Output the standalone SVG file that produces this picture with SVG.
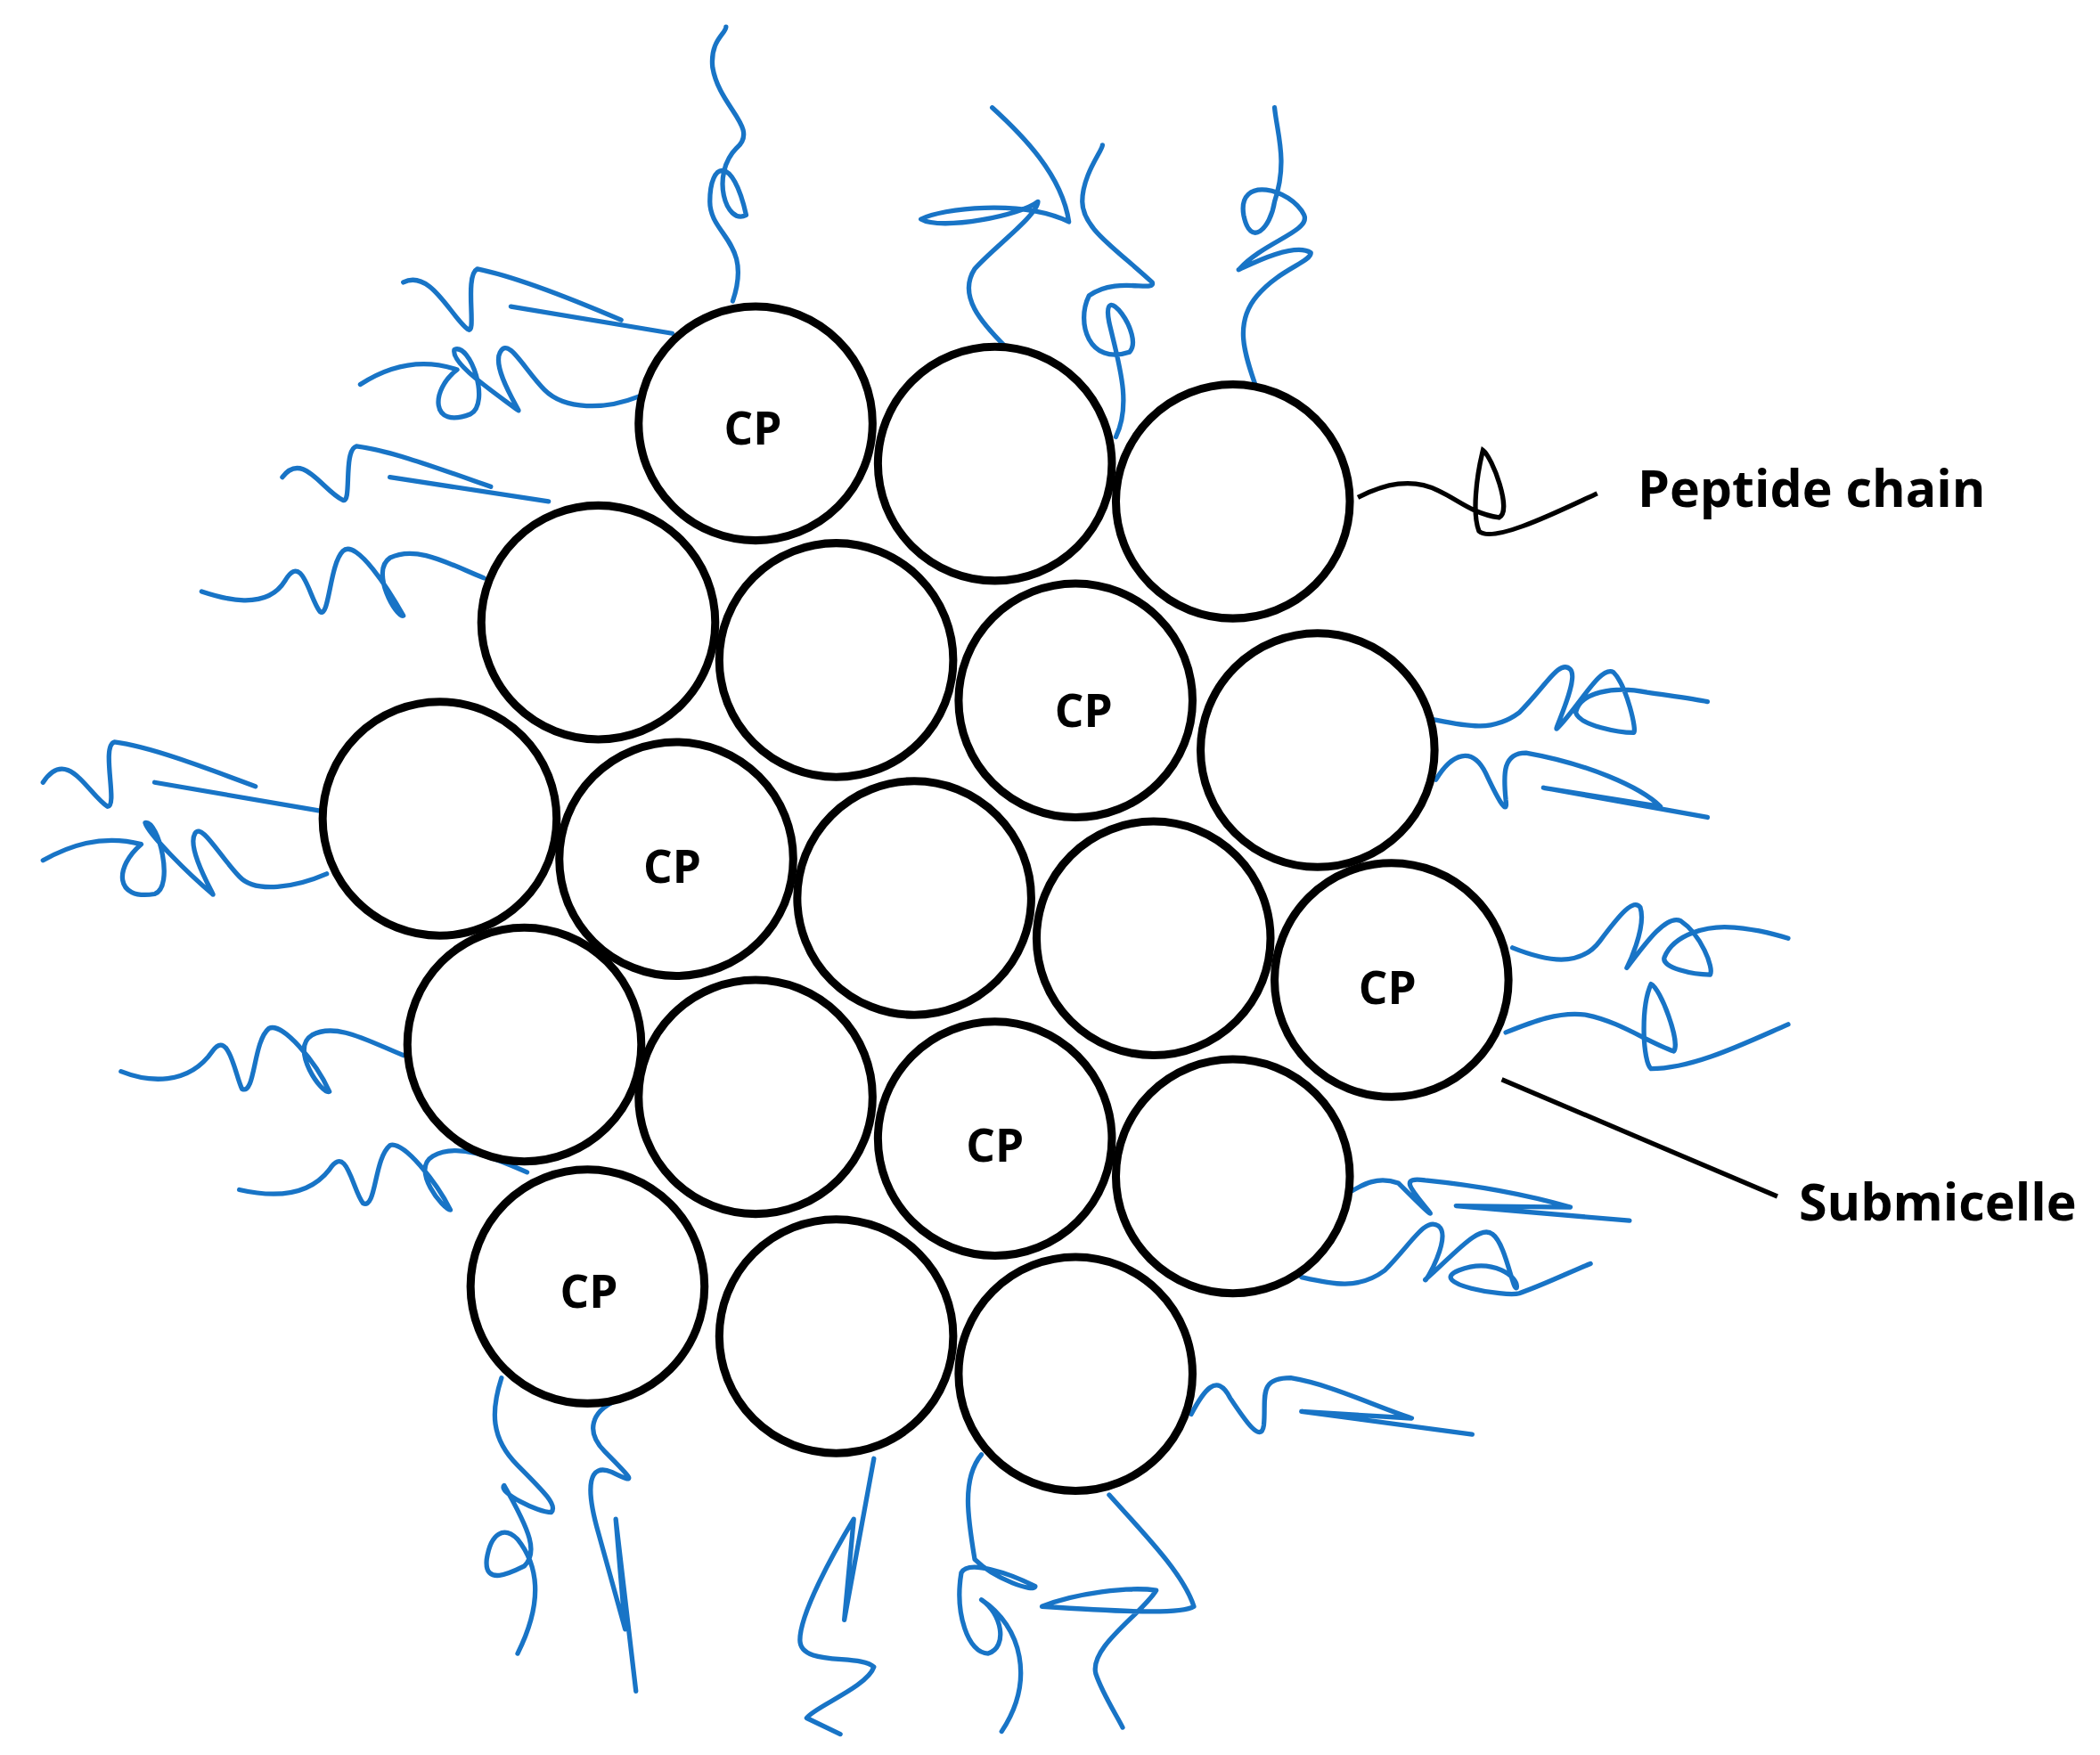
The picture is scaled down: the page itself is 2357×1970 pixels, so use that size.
<svg xmlns="http://www.w3.org/2000/svg" width="2357" height="1970" viewBox="0 0 2357 1970">
<style>
.c{fill:#fff;stroke:#000;stroke-width:6}
.b{fill:none;stroke:#1874c6;stroke-width:3.5;stroke-linecap:round;stroke-linejoin:round}
.k{fill:none;stroke:#000;stroke-width:3.5}
text{font-family:"Open Sans","Liberation Sans",sans-serif;font-weight:bold;fill:#000}
.cp{font-size:34px;text-anchor:middle}
.lb{font-size:38px}
</style>
<rect width="2357" height="1970" fill="#fff"/>
<g transform="scale(1.509)">
<g id="connectors">
<path class="b" d="M545,224 C560,180 528,175 528,150 C528,120 545,115 555,160 C540,168 528,130 548,110 C565,95 535,80 530,50 C528,30 540,25 540,20"/>
<path class="b" d="M748,258 C730,240 712,220 725,200 C738,185 772,160 772,150 C760,160 700,172 685,163 C700,155 760,148 795,165 C790,130 760,100 738,80"/>
<path class="b" d="M830,325 C842,300 832,270 825,240 C818,205 852,250 840,262 C810,272 800,240 810,220 C830,205 860,218 857,210 C830,185 805,170 805,150 C805,130 820,112 820,108"/>
<path class="b" d="M935,290 C925,262 918,240 935,220 C952,200 975,195 975,188 C960,178 915,205 922,200 C940,180 975,172 970,160 C960,140 920,130 925,160 C930,185 945,170 948,150 C958,120 950,100 948,80"/>
<path class="b" d="M500,248 L380,228 M462,238 C420,220 380,205 355,200 C345,205 355,250 348,245 C335,235 320,200 300,210"/>
<path class="b" d="M475,295 C450,305 420,305 405,290 C390,275 378,250 372,262 C365,275 390,310 385,305 C365,290 335,270 338,260 C350,255 365,300 350,308 C320,320 320,290 340,275 C310,265 285,275 268,286"/>
<path class="b" d="M408,373 L290,355 M365,362 C325,348 290,335 265,332 C255,335 262,375 255,372 C240,365 225,335 210,355"/>
<path class="b" d="M360,430 C335,420 310,405 290,415 C275,425 295,460 300,458 C290,440 265,400 255,410 C245,420 245,460 238,455 C230,445 225,410 212,432 C198,455 165,445 150,440"/>
<path class="b" d="M237,603 L115,582 M190,585 C150,570 110,555 85,552 C75,555 88,600 80,600 C65,590 50,555 32,582"/>
<path class="b" d="M243,650 C220,660 190,665 178,652 C162,635 150,612 145,620 C138,632 162,670 158,665 C140,650 110,620 108,612 C118,610 130,660 115,665 C85,670 85,645 105,628 C75,620 50,630 32,640"/>
<path class="b" d="M300,785 C275,775 250,760 232,770 C215,780 240,815 245,812 C235,790 210,760 200,765 C188,775 190,815 180,810 C175,800 170,765 158,782 C140,808 110,805 90,797"/>
<path class="b" d="M392,872 C365,860 340,850 322,860 C305,870 330,900 335,900 C325,880 300,848 290,852 C278,862 280,900 270,895 C262,885 258,850 245,870 C228,892 200,890 178,885"/>
<path class="b" d="M373,1025 C365,1050 365,1070 385,1090 C405,1110 415,1120 410,1125 C400,1125 370,1110 375,1105 C395,1140 400,1155 390,1165 C380,1170 360,1180 362,1160 C365,1140 375,1135 385,1145 C405,1170 400,1200 385,1230"/>
<path class="b" d="M458,1042 C440,1050 435,1065 450,1080 C470,1100 475,1105 455,1095 C438,1088 435,1105 445,1140 L465,1212 L458,1130 L473,1258"/>
<path class="b" d="M650,1085 L628,1205 L635,1130 C620,1155 595,1200 595,1220 C595,1240 640,1230 650,1240 C645,1255 605,1270 600,1278 L625,1290"/>
<path class="b" d="M730,1082 C715,1100 720,1130 725,1160 C740,1175 770,1185 770,1180 C750,1170 720,1160 715,1170 C710,1200 720,1230 735,1230 C750,1225 745,1200 730,1190 C760,1210 770,1250 745,1288"/>
<path class="b" d="M825,1112 C850,1140 880,1170 888,1195 C880,1200 850,1200 775,1195 C800,1185 840,1180 860,1183 C850,1200 810,1225 815,1245 C820,1260 830,1275 835,1285"/>
<path class="b" d="M886,1052 C895,1035 905,1020 915,1040 C925,1055 938,1075 940,1060 C942,1040 935,1025 960,1025 C990,1030 1020,1045 1050,1055 L968,1050 L1095,1067"/>
<path class="b" d="M968,950 C990,955 1010,960 1030,945 C1050,925 1060,905 1070,912 C1080,920 1060,955 1060,952 C1080,935 1100,910 1110,918 C1120,925 1125,960 1128,958 C1130,950 1110,935 1085,945 C1060,955 1120,965 1130,962 C1150,955 1170,945 1183,940"/>
<path class="b" d="M1002,888 C1015,880 1025,875 1040,880 C1050,890 1070,910 1062,900 C1050,885 1040,875 1060,878 C1100,882 1140,890 1168,898 L1083,897 L1212,908"/>
<path class="b" d="M1065,535 C1090,540 1110,545 1130,530 C1150,510 1160,490 1168,498 C1175,505 1155,545 1158,542 C1175,525 1190,495 1200,500 C1210,510 1218,545 1215,545 C1205,545 1175,540 1172,530 C1175,515 1200,510 1225,515 C1245,518 1260,520 1270,522"/>
<path class="b" d="M1068,580 C1080,560 1095,555 1105,575 C1112,590 1122,610 1120,595 C1118,575 1118,560 1135,560 C1180,568 1220,585 1235,600 L1148,586 L1270,608"/>
<path class="b" d="M1125,705 C1150,715 1175,720 1190,700 C1205,680 1215,668 1220,675 C1225,690 1210,720 1210,720 C1225,700 1240,680 1250,685 C1265,695 1275,720 1272,725 C1260,725 1235,720 1238,712 C1245,695 1270,688 1290,690 C1310,692 1320,695 1330,698"/>
<path class="b" d="M1120,768 C1140,760 1160,752 1180,755 C1205,760 1225,775 1245,782 C1250,775 1235,735 1228,732 C1220,750 1222,790 1228,795 C1260,795 1300,775 1330,762"/>
<path class="k" d="M1010,370 C1030,360 1050,355 1070,365 C1085,372 1095,382 1115,385 C1125,380 1110,340 1103,335 C1098,355 1095,382 1100,395 C1110,405 1160,380 1188,367"/>
<path class="k" d="M1117,803 L1322,890"/>
</g>
<g id="n1"><circle class="c" cx="562" cy="315" r="87"/><text class="cp" x="560" y="331">CP</text></g>
<g id="n2"><circle class="c" cx="740" cy="345" r="87"/></g>
<g id="n3"><circle class="c" cx="917" cy="373" r="87"/></g>
<g id="n4"><circle class="c" cx="445" cy="463" r="87"/></g>
<g id="n5"><circle class="c" cx="622" cy="491" r="87"/></g>
<g id="n6"><circle class="c" cx="800" cy="521" r="87"/><text class="cp" x="806" y="541">CP</text></g>
<g id="n7"><circle class="c" cx="980" cy="558" r="87"/></g>
<g id="n8"><circle class="c" cx="327" cy="609" r="87"/></g>
<g id="n9"><circle class="c" cx="503" cy="639" r="87"/><text class="cp" x="500" y="657">CP</text></g>
<g id="n10"><circle class="c" cx="680" cy="668" r="87"/></g>
<g id="n11"><circle class="c" cx="858" cy="698" r="87"/></g>
<g id="n12"><circle class="c" cx="1035" cy="729" r="87"/><text class="cp" x="1032" y="747">CP</text></g>
<g id="n13"><circle class="c" cx="390" cy="777" r="87"/></g>
<g id="n14"><circle class="c" cx="562" cy="816" r="87"/></g>
<g id="n15"><circle class="c" cx="740" cy="847" r="87"/><text class="cp" x="740" y="864">CP</text></g>
<g id="n16"><circle class="c" cx="917" cy="875" r="87"/></g>
<g id="n17"><circle class="c" cx="437" cy="957" r="87"/><text class="cp" x="438" y="973">CP</text></g>
<g id="n18"><circle class="c" cx="622" cy="994" r="87"/></g>
<g id="n19"><circle class="c" cx="800" cy="1022" r="87"/></g>
<g id="labels">
<text class="lb" x="1218" y="377">Peptide chain</text>
<text class="lb" x="1338" y="908">Submicelle</text>
</g>
</g>
</svg>
